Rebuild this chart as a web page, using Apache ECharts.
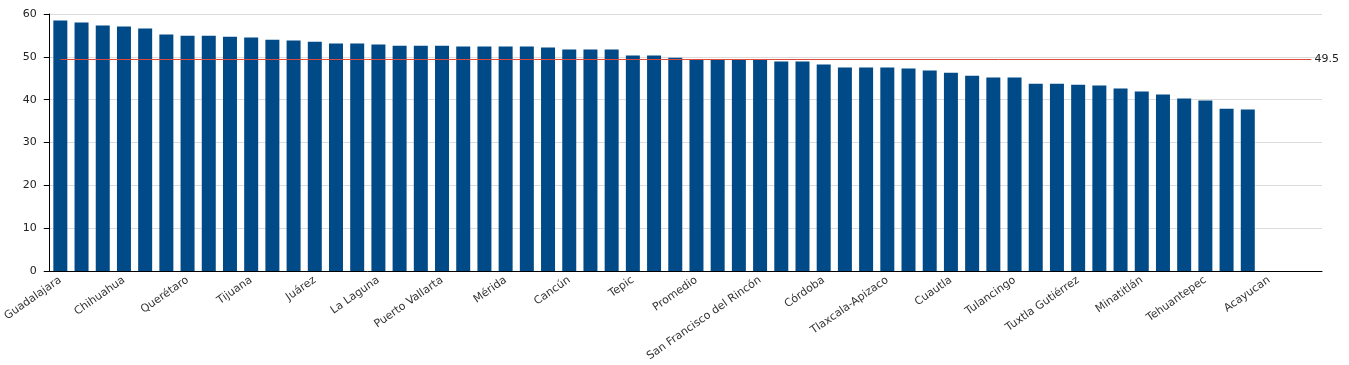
<!DOCTYPE html>
<html>
<head>
<meta charset="utf-8">
<script src="https://cdn.jsdelivr.net/npm/echarts@6/dist/echarts.min.js"></script>
<style>
html,body{margin:0;padding:0;background:#fff;}
#chart{width:1349px;height:365px;}
</style>
</head>
<body>
<div id="chart"></div>
<script>
// Labeled categories (every third category on the axis)
var labeledCategories = ['Guadalajara','Chihuahua','Querétaro','Tijuana','Juárez','La Laguna','Puerto Vallarta','Mérida','Cancún','Tepic','Promedio','San Francisco del Rincón','Córdoba','Tlaxcala-Apizaco','Cuautla','Tulancingo','Tuxtla Gutiérrez','Minatitlán','Tehuantepec','Acayucan'];
var categoryCount = 60;
var labelStep = 3;
var values = [58.5,58.0,57.3,57.1,56.6,55.2,54.9,54.9,54.7,54.5,54.0,53.8,53.5,53.1,53.1,52.9,52.6,52.6,52.6,52.4,52.4,52.4,52.4,52.2,51.7,51.7,51.7,50.3,50.3,49.8,49.5,49.5,49.5,49.5,48.9,48.9,48.2,47.5,47.5,47.5,47.3,46.8,46.3,45.6,45.2,45.2,43.7,43.7,43.5,43.3,42.6,41.9,41.2,40.3,39.8,37.9,37.7];
var averageValue = 49.5;
var yTicks = [0,10,20,30,40,50,60];

var categories = [];
for (var i = 0; i < categoryCount; i++) {
  categories.push(i % labelStep === 0 && labeledCategories[i / labelStep] ? labeledCategories[i / labelStep] : '');
}

var chart = echarts.init(document.getElementById('chart'), null, {renderer:'canvas'});
chart.setOption({
  animation:false,
  grid:{left:49,right:27,top:14,bottom:94,containLabel:false},
  xAxis:{
    type:'category',
    data:categories,
    axisLine:{lineStyle:{color:'#000',width:1}},
    axisTick:{show:false},
    axisLabel:{interval:0,rotate:35,margin:8,color:'#333',fontFamily:'DejaVu Sans',fontSize:11}
  },
  yAxis:{
    type:'value',
    min:yTicks[0],
    max:yTicks[yTicks.length-1],
    interval:10,
    axisLine:{show:true,lineStyle:{color:'#000',width:1}},
    axisTick:{show:true,length:6,lineStyle:{color:'#000'}},
    axisLabel:{margin:13,color:'#222',fontFamily:'DejaVu Sans',fontSize:11},
    splitLine:{lineStyle:{color:'#dcdcdc',width:1}}
  },
  series:[{
    type:'bar',
    data:values,
    barWidth:14,
    itemStyle:{color:'#004b87'},
    markLine:{
      silent:true,
      symbol:'none',
      lineStyle:{color:'#e04a3a',width:1,type:'solid',opacity:1},
      label:{show:true,position:'end',color:'#222',fontFamily:'DejaVu Sans',fontSize:11,distance:3,formatter:String(averageValue)},
      data:[[{coord:[0,averageValue]},{coord:[categoryCount-1,averageValue]}]]
    }
  }]
});
</script>
</body>
</html>
